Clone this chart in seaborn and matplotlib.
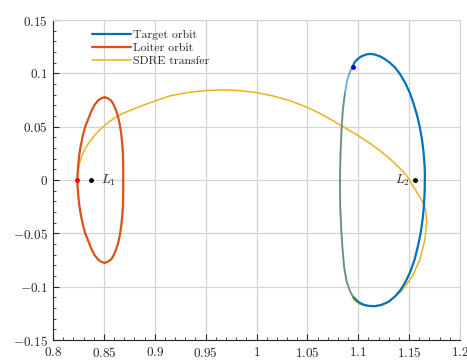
import matplotlib
matplotlib.use("Agg")
import matplotlib.pyplot as plt
import seaborn as sns
import numpy as np
import pandas as pd
from matplotlib.ticker import FixedLocator, FixedFormatter, MultipleLocator

# ---------------- data ----------------
target_x = [1.1115, 1.1164, 1.1213, 1.1262, 1.1311, 1.1360, 1.1410, 1.1459, 1.1508,
            1.1547, 1.1580, 1.1606, 1.1626, 1.1642, 1.1652, 1.1655,
            1.1652, 1.1645, 1.1632, 1.1613, 1.1586, 1.1554, 1.1514, 1.1469, 1.1416,
            1.1360, 1.1295, 1.1229, 1.1164, 1.1098, 1.1049, 1.1000, 1.0957, 1.0918,
            1.0885, 1.0862, 1.0846, 1.0833, 1.0823, 1.0820,
            1.0826, 1.0836, 1.0849, 1.0869, 1.0892, 1.0918, 1.0944, 1.0967, 1.1000,
            1.1033, 1.1075, 1.1115]
target_y = [0.1182, 0.1176, 0.1160, 0.1133, 0.1099, 0.1056, 0.0994, 0.0914, 0.0815,
            0.0707, 0.0599, 0.0491, 0.0383, 0.0259, 0.0136, 0.0043,
            -0.0124, -0.0248, -0.0373, -0.0497, -0.0621, -0.0745, -0.0854, -0.0947, -0.1031,
            -0.1093, -0.1143, -0.1171, -0.1183, -0.1180, -0.1168, -0.1143, -0.1102, -0.1040,
            -0.0947, -0.0823, -0.0652, -0.0466, -0.0248, 0.0000,
            0.0259, 0.0475, 0.0660, 0.0815, 0.0938, 0.1015, 0.1062, 0.1108, 0.1139,
            0.1160, 0.1176, 0.1182]

loiter_x = [0.8507, 0.8539, 0.8572, 0.8598, 0.8621, 0.8641, 0.8657, 0.8670, 0.8680,
            0.8687, 0.8690, 0.8690,
            0.8690, 0.8687, 0.8680, 0.8670, 0.8657, 0.8641, 0.8621, 0.8598, 0.8572,
            0.8539, 0.8507,
            0.8474, 0.8441, 0.8408, 0.8375, 0.8343, 0.8317, 0.8294, 0.8274, 0.8258,
            0.8248, 0.8238,
            0.8248, 0.8258, 0.8274, 0.8294, 0.8317, 0.8343, 0.8375, 0.8408, 0.8441,
            0.8474, 0.8507]
loiter_y = [0.0775, 0.0766, 0.0744, 0.0703, 0.0650, 0.0588, 0.0516, 0.0438, 0.0344,
            0.0250, 0.0125, 0.0000,
            -0.0125, -0.0250, -0.0344, -0.0438, -0.0516, -0.0588, -0.0650, -0.0703, -0.0744,
            -0.0766, -0.0778,
            -0.0766, -0.0744, -0.0703, -0.0641, -0.0563, -0.0500, -0.0422, -0.0328, -0.0234,
            -0.0141, 0.0000,
            0.0141, 0.0234, 0.0328, 0.0422, 0.0500, 0.0563, 0.0641, 0.0703, 0.0744,
            0.0766, 0.0775]

transfer_x = [0.8238, 0.8241, 0.8248, 0.8261, 0.8280, 0.8310, 0.8349, 0.8398, 0.8457,
              0.8523, 0.8598, 0.8687, 0.8785, 0.8885, 0.9000, 0.9147, 0.9311, 0.9500,
              0.9672, 0.9836, 1.0000, 1.0163, 1.0327, 1.0500, 1.0655, 1.0835, 1.1000,
              1.1113, 1.1213, 1.1300, 1.1377, 1.1475, 1.1550, 1.1623, 1.1662, 1.1672,
              1.1655, 1.1606, 1.1534, 1.1426, 1.1311, 1.1213, 1.1115, 1.1016, 1.0957,
              1.0918, 1.0885, 1.0862, 1.0846, 1.0833, 1.0823, 1.0820, 1.0826, 1.0836,
              1.0849, 1.0869]
transfer_y = [0.0000, 0.0047, 0.0094, 0.0156, 0.0219, 0.0281, 0.0344, 0.0406, 0.0469,
              0.0525, 0.0578, 0.0625, 0.0663, 0.0700, 0.0741, 0.0788, 0.0819, 0.0838,
              0.0844, 0.0838, 0.0819, 0.0788, 0.0744, 0.0681, 0.0609, 0.0509, 0.0415,
              0.0345, 0.0275, 0.0208, 0.0140, 0.0043, -0.0075, -0.0186, -0.0280, -0.0404,
              -0.0559, -0.0745, -0.0900, -0.1040, -0.1134, -0.1174, -0.1183, -0.1165, -0.1124,
              -0.1040, -0.0947, -0.0823, -0.0652, -0.0466, -0.0248, 0.0000, 0.0259, 0.0475,
              0.0660, 0.0815]

lagrange_names = ["$L_1$", "$L_2$"]
lagrange_x = [0.8369, 1.1557]
lagrange_y = [0.0, 0.0]
start_point = (0.8238, 0.0)
end_point = (1.0944, 0.1062)

series_labels = ["Target orbit", "Loiter orbit", "SDRE transfer"]
series_colors = ["#0072BD", "#D95319", "#EDB120"]

xticks = [0.8, 0.85, 0.9, 0.95, 1.0, 1.05, 1.1, 1.15, 1.2]
xtick_labels = ["0.8", "0.85", "0.9", "0.95", "1", "1.05", "1.1", "1.15", "1.2"]
yticks = [-0.15, -0.1, -0.05, 0.0, 0.05, 0.1, 0.15]
ytick_labels = ["-0.15", "-0.1", "-0.05", "0", "0.05", "0.1", "0.15"]

# ---------------- style ----------------
sns.set_style("ticks")
plt.rcParams["font.family"] = "serif"
plt.rcParams["font.serif"] = ["cmr10", "DejaVu Serif"]
plt.rcParams["mathtext.fontset"] = "cm"
plt.rcParams["axes.unicode_minus"] = True

fig = plt.figure(figsize=(4.67, 3.6), dpi=100)
ax = fig.add_axes([53 / 467, 20 / 360, 407 / 467, 320 / 360])

df_t = pd.DataFrame({"x": target_x, "y": target_y})
df_l = pd.DataFrame({"x": loiter_x, "y": loiter_y})
df_s = pd.DataFrame({"x": transfer_x, "y": transfer_y})

# part of the target orbit overlapped by the transfer (drawn translucent)
fade_from, fade_to = 32, 46

sns.lineplot(data=df_s, x="x", y="y", sort=False, estimator=None, ax=ax,
             color=series_colors[2], lw=1.1, label=series_labels[2], zorder=2)
sns.lineplot(data=df_t.iloc[:fade_from + 1], x="x", y="y", sort=False, estimator=None,
             ax=ax, color=series_colors[0], lw=1.6, label=series_labels[0], zorder=3)
sns.lineplot(data=df_t.iloc[fade_from:fade_to + 1], x="x", y="y", sort=False,
             estimator=None, ax=ax, color=series_colors[0], lw=1.4, alpha=0.55,
             zorder=3, legend=False)
sns.lineplot(data=df_t.iloc[fade_to:], x="x", y="y", sort=False, estimator=None,
             ax=ax, color=series_colors[0], lw=1.6, zorder=3, legend=False)
sns.lineplot(data=df_l, x="x", y="y", sort=False, estimator=None, ax=ax,
             color=series_colors[1], lw=1.6, label=series_labels[1], zorder=3)

ax.plot(lagrange_x, lagrange_y, "o", color="black", ms=2.5, zorder=5)
ax.plot([start_point[0]], [start_point[1]], "o", color="red", ms=2.5, zorder=6)
ax.plot([end_point[0]], [end_point[1]], "o", color="blue", ms=2.5, zorder=6)
ax.text(lagrange_x[0] + 0.0105, 0.0, lagrange_names[0], fontsize=9.5,
        ha="left", va="center")
ax.text(lagrange_x[1] - 0.0045, 0.0, lagrange_names[1], fontsize=9.5,
        ha="right", va="center")

ax.set_xlim(0.8, 1.2)
ax.set_ylim(-0.15, 0.15)
ax.xaxis.set_major_locator(FixedLocator(xticks))
ax.xaxis.set_major_formatter(FixedFormatter(["$" + s + "$" for s in xtick_labels]))
ax.yaxis.set_major_locator(FixedLocator(yticks))
ax.yaxis.set_major_formatter(FixedFormatter(["$" + s + "$" for s in ytick_labels]))
ax.xaxis.set_minor_locator(MultipleLocator(0.01))
ax.yaxis.set_minor_locator(MultipleLocator(0.01))
ax.tick_params(which="major", direction="in", length=4, width=0.8, labelsize=9.5,
               colors="#262626")
ax.tick_params(which="minor", direction="in", length=2, width=0.6)
ax.tick_params(axis="x", pad=4)
ax.set_xlabel("")
ax.set_ylabel("")
ax.grid(True, which="major", color="#d4d4d4", lw=0.9)
ax.set_axisbelow(True)
for s in ["top", "right"]:
    ax.spines[s].set_color("#d4d4d4")
for s in ["left", "bottom"]:
    ax.spines[s].set_color("#262626")
    ax.spines[s].set_linewidth(0.8)

# legend in the reference order
handles, labels = ax.get_legend_handles_labels()
order = [labels.index(l) for l in series_labels]
leg = ax.legend([handles[i] for i in order], [labels[i] for i in order],
                loc="upper left", bbox_to_anchor=(0.085, 0.985), frameon=False,
                fontsize=8.5, handlelength=3.3, handletextpad=0.15,
                labelspacing=0.25, borderaxespad=0.0)

fig.savefig("out.png", dpi=100)
